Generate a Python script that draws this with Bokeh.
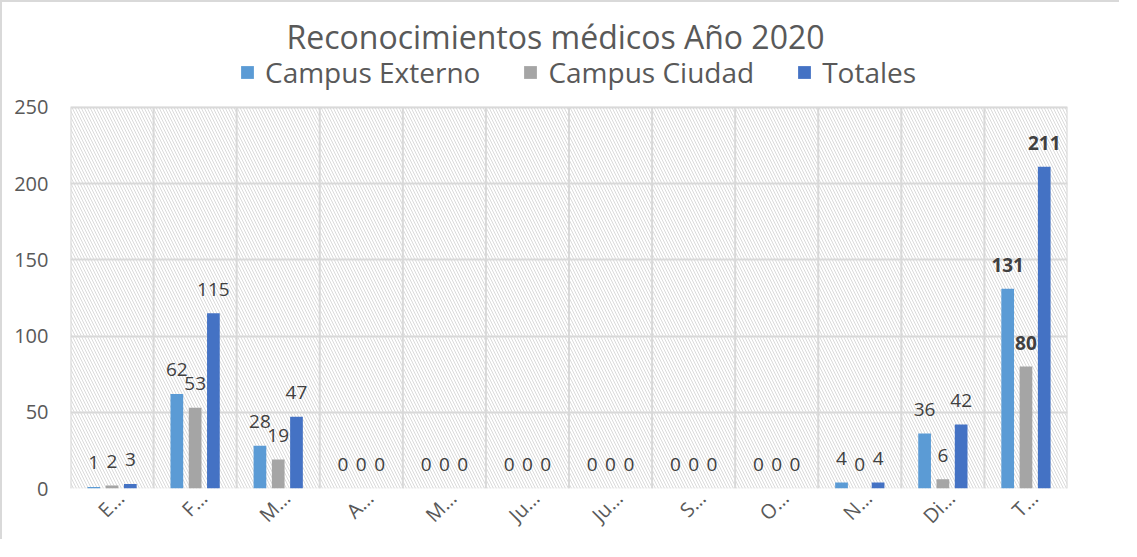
import math
import numpy as np
from bokeh.plotting import figure
from bokeh.models import (Range1d, FixedTicker, Legend, LegendItem, Label,
                          BoxAnnotation, ColumnDataSource)
from bokeh.core.properties import value
from bokeh.embed import file_html
from bokeh.resources import INLINE

# ---- data ----
months = ["E…", "F…", "M…", "A…", "M…", "Ju…", "Ju…", "S…", "O…", "N…", "Di…", "T…"]
externo = [1, 62, 28, 0, 0, 0, 0, 0, 0, 4, 36, 131]
ciudad = [2, 53, 19, 0, 0, 0, 0, 0, 0, 0, 6, 80]
totales = [3, 115, 47, 0, 0, 0, 0, 0, 0, 4, 42, 211]
series_names = ["Campus Externo", "Campus Ciudad", "Totales"]
y_ticks = [0, 50, 100, 150, 200, 250]
title_text = "Reconocimientos médicos Año 2020"

# ---- style ----
colors = ["#5B9BD5", "#A5A5A5", "#4472C4"]
FONT = "Open Sans"
TXT = "#595959"
LBL = "#404040"
GRID = "#D9D9D9"

n = len(months)
W, H = 1119, 539          # + 2px border left/top
FRAME_H = 487             # canvas px from top to x-axis
AXIS_PX = 382             # px for 0..250
y_max = y_ticks[-1] * FRAME_H / AXIS_PX

p = figure(width=W, height=H, output_backend="svg", toolbar_location=None,
           x_range=Range1d(0, n), y_range=Range1d(0, y_max), title=None,
           min_border_left=68, min_border_right=54, min_border_top=0,
           min_border_bottom=H - FRAME_H)
p.styles = {"border-left": "2px solid #D9D9D9", "border-top": "2px solid #D9D9D9"}
p.outline_line_color = None
p.background_fill_color = "white"

# hatched plot area with its border
p.add_layout(BoxAnnotation(left=0, right=n, bottom=0, top=y_ticks[-1],
                           fill_color=None, line_color=GRID, line_width=2,
                           hatch_pattern="\\", hatch_color="#DADADA",
                           hatch_scale=6, hatch_weight=1, level="image"))

# grid
p.xgrid.visible = False
bounds = list(range(n + 1))
p.segment(x0=bounds, y0=0, x1=bounds, y1=y_ticks[-1], line_color=GRID,
          line_width=2, level="underlay")
p.ygrid.ticker = FixedTicker(ticks=y_ticks)
p.ygrid.grid_line_color = GRID
p.ygrid.grid_line_width = 2

centers = np.arange(n) + 0.5
offsets = [-0.22, 0.0, 0.22]
width = 0.153
series = [externo, ciudad, totales]

items = []
for name, vals, off, col in zip(series_names, series, offsets, colors):
    xs = centers + off
    src = ColumnDataSource(dict(x=xs, top=vals,
                                lab=[str(v) for v in vals],
                                style=["bold" if i == n - 1 else "normal" for i in range(n)]))
    r = p.vbar(x="x", top="top", bottom=0, width=width, source=src,
               fill_color=col, line_color=None)
    items.append(LegendItem(label=name, renderers=[r]))
    p.text(x="x", y="top", text="lab", source=src, text_align="center",
           text_baseline="alphabetic", y_offset=-24, text_font=value(FONT),
           text_font_size="19px", text_color=LBL, text_font_style="style")

# axes (rotated labels anchored slightly right of the category centre)
label_shift = 0.1
tick_pos = [float(c + label_shift) for c in centers]
p.xaxis.ticker = FixedTicker(ticks=tick_pos)
p.xaxis.major_label_overrides = {t: m for t, m in zip(tick_pos, months)}
p.xaxis.major_label_orientation = math.pi / 4
p.xaxis.major_label_text_font = FONT
p.xaxis.major_label_text_font_size = "20px"
p.xaxis.major_label_text_color = TXT
p.xaxis.major_label_standoff = 6
p.xaxis.axis_line_color = None
p.xaxis.major_tick_line_color = None
p.xaxis.minor_tick_line_color = None
p.xaxis.major_tick_out = 0

p.yaxis.ticker = FixedTicker(ticks=y_ticks)
p.yaxis.major_label_text_font = FONT
p.yaxis.major_label_text_font_size = "20px"
p.yaxis.major_label_text_color = TXT
p.yaxis.major_label_standoff = 22
p.yaxis.axis_line_color = None
p.yaxis.major_tick_line_color = None
p.yaxis.minor_tick_line_color = None
p.yaxis.major_tick_out = 0

# title (screen units relative to frame)
p.add_layout(Label(x=485, y=FRAME_H - 35, x_units="screen", y_units="screen",
                   text=title_text, text_align="center", text_baseline="middle",
                   text_font=FONT, text_font_size="32px", text_color=TXT))

legend = Legend(items=items, orientation="horizontal", location=(169, FRAME_H - 90),
                label_text_font=FONT, label_text_font_size="28px",
                label_text_color=TXT, glyph_width=16, glyph_height=16,
                label_standoff=10, spacing=42, border_line_color=None,
                background_fill_alpha=0, padding=0, margin=0)
p.add_layout(legend, "center")

open("out.html", "w").write(file_html(p, INLINE))
